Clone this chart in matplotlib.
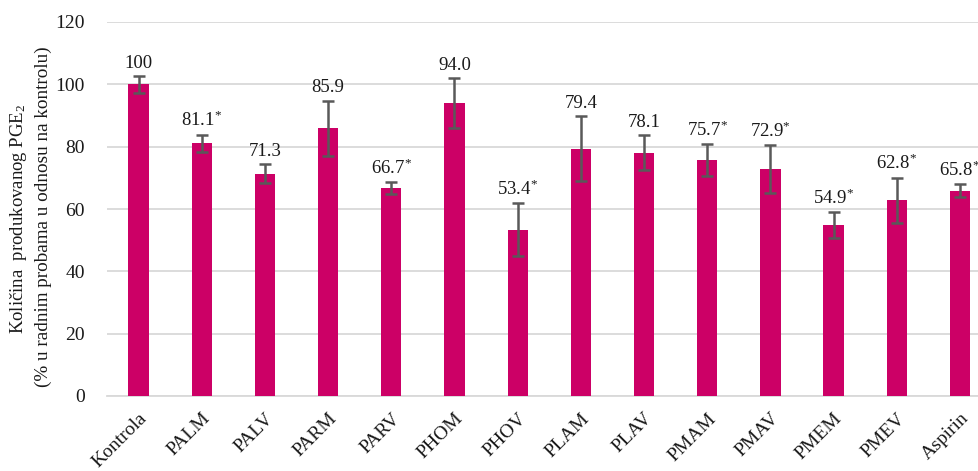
import matplotlib
matplotlib.use("Agg")
import matplotlib.pyplot as plt
import numpy as np

plt.rcParams['font.family'] = ['Liberation Serif', 'DejaVu Serif']
plt.rcParams['mathtext.fontset'] = 'custom'
plt.rcParams['mathtext.rm'] = 'Liberation Serif'
plt.rcParams['mathtext.it'] = 'Liberation Serif'

categories = ["Kontrola", "PALM", "PALV", "PARM", "PARV", "PHOM", "PHOV",
              "PLAM", "PLAV", "PMAM", "PMAV", "PMEM", "PMEV", "Aspirin"]
values = [100, 81.1, 71.3, 85.9, 66.7, 94.0, 53.4,
          79.4, 78.1, 75.7, 72.9, 54.9, 62.8, 65.8]
errors = [2.7, 2.8, 3.1, 8.9, 2.0, 8.0, 8.4,
          10.4, 5.5, 5.2, 7.7, 4.1, 7.3, 2.1]
labels = ["100", "81.1*", "71.3", "85.9", "66.7*", "94.0", "53.4*",
          "79.4", "78.1", "75.7*", "72.9*", "54.9*", "62.8*", "65.8*"]

W, H = 979, 471
fig = plt.figure(figsize=(W / 100, H / 100), dpi=100)
ax = fig.add_axes([107 / W, 1 - 396 / H, (W - 107) / W, (396 - 22) / H])

x = np.arange(len(categories))
ax.bar(x, values, width=0.32, color="#CC0066", zorder=3)
ax.errorbar(x, values, yerr=errors, fmt="none", ecolor="#595959",
            elinewidth=1.8, capsize=4, capthick=1.8, zorder=4)

for xi, v, e, lab in zip(x, values, errors, labels):
    if lab.endswith("*"):
        txt = lab[:-1] + r"$^{\!*}$"
    else:
        txt = lab
    ax.annotate(txt, (xi, v + e), xytext=(0, 3), textcoords="offset points",
                ha="center", va="bottom", fontsize=13.5, color="#1a1a1a")

ax.set_ylim(0, 120)
ax.set_xlim(-0.5, (W - 139) / 63.15)
ax.set_yticks(np.arange(0, 121, 20))
ax.yaxis.grid(True, color="#D9D9D9", linewidth=1.3, zorder=0)
ax.set_axisbelow(True)
for s in ["top", "right", "left"]:
    ax.spines[s].set_visible(False)
ax.spines["bottom"].set_color("#D9D9D9")
ax.spines["bottom"].set_linewidth(1.3)
ax.tick_params(axis="both", length=0, labelsize=14, colors="#1a1a1a")
ax.tick_params(axis="y", pad=16)
ax.set_xticks(x)
ax.set_xticklabels(categories, rotation=45, ha="right", rotation_mode="anchor")
ax.tick_params(axis="x", pad=10)

fig.text(19 / W, 1 - 219 / H, "Količina  produkovanog PGE$_2$", rotation=90,
         ha="center", va="center", fontsize=13.5, color="#1a1a1a")
fig.text(43 / W, 1 - 217 / H, "(% u radnim probama u odnosu na kontrolu)", rotation=90,
         ha="center", va="center", fontsize=13.8, color="#1a1a1a")

fig.savefig("out.png", dpi=100)
